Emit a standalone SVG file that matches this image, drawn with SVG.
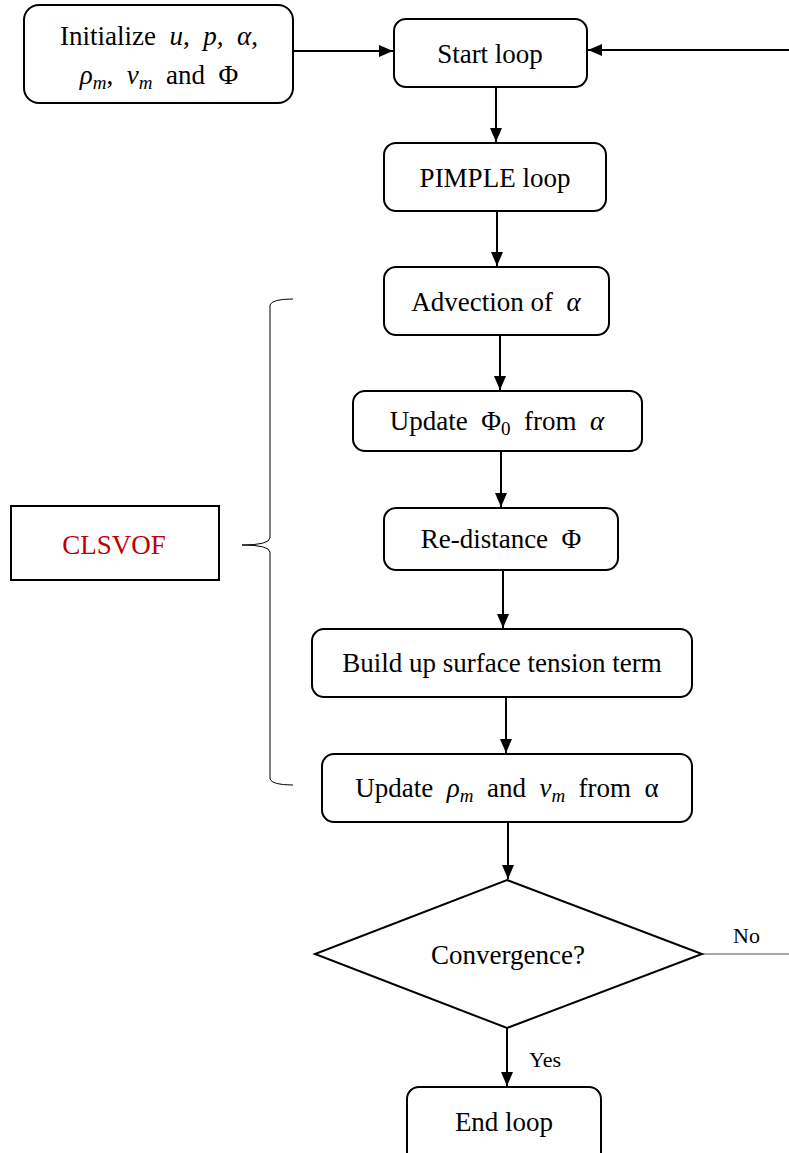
<svg xmlns="http://www.w3.org/2000/svg" width="789" height="1153" viewBox="0 0 789 1153">
<defs>
<marker id="ah" viewBox="0 0 14 12" refX="14" refY="6" markerWidth="14" markerHeight="12" markerUnits="userSpaceOnUse" orient="auto">
<path d="M0,0 L14,6 L0,12 Z" fill="#000"/>
</marker>
</defs>
<style>
.box{fill:#fff;stroke:#000;stroke-width:2}
.t{font-family:"Liberation Serif","Times New Roman",serif;font-size:27px;fill:#000;text-anchor:middle;white-space:pre}
.i{font-style:italic}
.s{font-size:19px;font-style:italic}
.c{fill:none;stroke:#000;stroke-width:2}
.lbl{font-family:"Liberation Serif","Times New Roman",serif;font-size:22px;fill:#000}
</style>
<rect width="789" height="1153" fill="#fff"/>
<g id="connectors">
<line class="c" x1="293" y1="51" x2="393" y2="51" marker-end="url(#ah)"/>
<line class="c" x1="789" y1="50" x2="588" y2="50" marker-end="url(#ah)"/>
<line class="c" x1="496" y1="87" x2="496" y2="142" marker-end="url(#ah)"/>
<line class="c" x1="497" y1="211" x2="497" y2="266" marker-end="url(#ah)"/>
<line class="c" x1="500" y1="335" x2="500" y2="390" marker-end="url(#ah)"/>
<line class="c" x1="501" y1="451" x2="501" y2="507" marker-end="url(#ah)"/>
<line class="c" x1="503" y1="570" x2="503" y2="628" marker-end="url(#ah)"/>
<line class="c" x1="506" y1="697" x2="506" y2="753" marker-end="url(#ah)"/>
<line class="c" x1="508" y1="822" x2="508" y2="879" marker-end="url(#ah)"/>
<line class="c" x1="507" y1="1028" x2="507" y2="1086" marker-end="url(#ah)"/>
<line x1="702" y1="954" x2="789" y2="954" stroke="#555" stroke-width="1"/>
<text class="lbl" x="733" y="943">No</text>
<text class="lbl" x="529" y="1067">Yes</text>
</g>
<g id="init">
<rect class="box" x="24" y="5" width="269" height="98" rx="15"/>
<text class="t" x="159" y="45">Initialize  <tspan class="i">u</tspan>,  <tspan class="i">p</tspan>,  <tspan class="i">α</tspan>,</text>
<text class="t" x="159" y="84"><tspan class="i">ρ</tspan><tspan class="s" dy="5">m</tspan><tspan dy="-5">,  </tspan><tspan class="i">ν</tspan><tspan class="s" dy="5">m</tspan><tspan dy="-5">  and  Φ</tspan></text>
</g>
<g id="start">
<rect class="box" x="394" y="19" width="193" height="68" rx="12"/>
<text class="t" x="490" y="63">Start loop</text>
</g>
<g id="pimple">
<rect class="box" x="384" y="143" width="222" height="68" rx="12"/>
<text class="t" x="495" y="187">PIMPLE loop</text>
</g>
<g id="advection">
<rect class="box" x="384" y="267" width="225" height="68" rx="12"/>
<text class="t" x="496" y="311">Advection of  <tspan class="i">α</tspan></text>
</g>
<g id="updatephi">
<rect class="box" x="353" y="391" width="289" height="60" rx="12"/>
<text class="t" x="497" y="430">Update  Φ<tspan font-size="19" dy="5">0</tspan><tspan dy="-5">  from  </tspan><tspan class="i">α</tspan></text>
</g>
<g id="redistance">
<rect class="box" x="384" y="508" width="234" height="62" rx="12"/>
<text class="t" x="501" y="548">Re-distance  Φ</text>
</g>
<g id="surface">
<rect class="box" x="312" y="629" width="380" height="68" rx="12"/>
<text class="t" x="502" y="672">Build up surface tension term</text>
</g>
<g id="updaterho">
<rect class="box" x="322" y="754" width="370" height="68" rx="12"/>
<text class="t" x="507" y="797">Update  <tspan class="i">ρ</tspan><tspan class="s" dy="5">m</tspan><tspan dy="-5">  and  </tspan><tspan class="i">ν</tspan><tspan class="s" dy="5">m</tspan><tspan dy="-5">  from  α</tspan></text>
</g>
<g id="convergence">
<polygon class="box" points="507,880 702,954 507,1028 315,954"/>
<text class="t" x="508" y="964">Convergence?</text>
</g>
<g id="end">
<rect class="box" x="407" y="1087" width="194" height="80" rx="12"/>
<text class="t" x="504" y="1131">End loop</text>
</g>
<g id="clsvof">
<rect x="11" y="506" width="208" height="74" fill="#fff" stroke="#000" stroke-width="2"/>
<text class="t" x="114" y="554" style="fill:#C00000">CLSVOF</text>
<path d="M293,299 Q272,299 270,305 L270,538 Q269,545 242,545 Q269,545 270,552 L270,779 Q272,785 293,785" fill="none" stroke="#000" stroke-width="1"/>
</g>
</svg>
